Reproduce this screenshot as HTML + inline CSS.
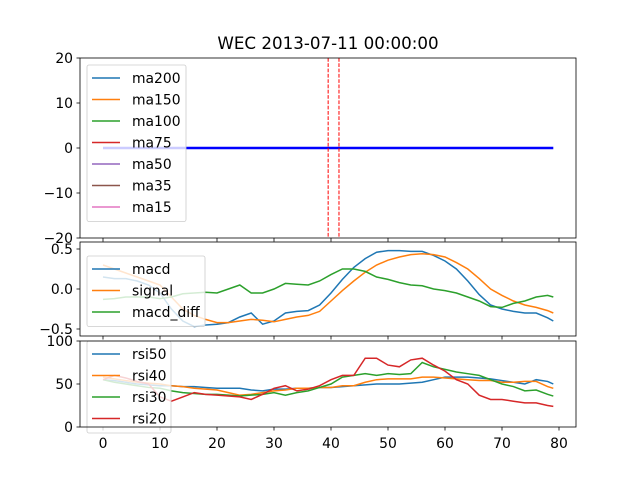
<!DOCTYPE html>
<html><head><meta charset="utf-8"><style>
body{margin:0;background:#fff}
svg{font-family:"DejaVu Sans","Liberation Sans",sans-serif}
</style></head><body>
<svg id="chart" width="640" height="480" xmlns="http://www.w3.org/2000/svg">
<rect width="640" height="480" fill="#fff"/>
<text x="328" y="49" text-anchor="middle" font-size="16.7">WEC 2013-07-11 00:00:00</text>
<g id="g"></g>
</svg>
<script>
const xsIdx=[0,2,4,6,8,10,12,14,16,18,20,22,24,26,28,30,32,34,36,38,40,42,44,46,48,50,52,54,56,58,60,62,64,66,68,70,72,74,76,78,79];
const macd=[0.15,0.13,0.13,0.1,0.05,-0.05,-0.25,-0.4,-0.47,-0.45,-0.44,-0.42,-0.35,-0.3,-0.44,-0.4,-0.3,-0.28,-0.27,-0.2,-0.05,0.12,0.27,0.38,0.46,0.48,0.48,0.47,0.47,0.42,0.35,0.25,0.1,-0.07,-0.2,-0.25,-0.28,-0.3,-0.3,-0.36,-0.4];
const signal=[0.3,0.25,0.2,0.15,0.1,0.05,-0.1,-0.25,-0.33,-0.38,-0.42,-0.42,-0.4,-0.38,-0.39,-0.41,-0.38,-0.35,-0.33,-0.28,-0.15,-0.02,0.1,0.21,0.3,0.36,0.4,0.43,0.44,0.43,0.4,0.33,0.25,0.13,0.0,-0.08,-0.15,-0.2,-0.23,-0.27,-0.3];
const macdDiff=[-0.13,-0.12,-0.1,-0.1,-0.1,-0.12,-0.1,-0.06,-0.05,-0.04,-0.05,0.0,0.05,-0.05,-0.05,0.0,0.07,0.06,0.05,0.1,0.18,0.25,0.25,0.22,0.15,0.12,0.08,0.05,0.04,0.0,-0.02,-0.05,-0.1,-0.15,-0.22,-0.23,-0.18,-0.15,-0.1,-0.08,-0.1];
const rsi50=[55,54,52,50,49,48,48,47,47,46,45,45,45,43,42,44,44,45,45,46,46,47,48,49,50,50,50,51,52,55,58,58,58,57,56,54,52,50,55,53,50];
const rsi40=[58,56,54,52,51,50,48,47,45,44,43,40,37,38,40,42,43,45,45,46,46,48,48,52,55,56,56,56,58,58,57,56,55,54,54,52,52,53,53,47,45];
const rsi30=[55,52,50,48,46,45,42,40,39,38,38,37,36,37,38,40,37,40,42,46,50,58,60,62,60,62,61,62,75,70,67,64,62,60,55,50,47,42,43,38,36];
const rsi20=[55,60,57,53,50,35,30,35,40,38,37,36,35,32,38,45,48,42,44,48,55,60,60,80,80,72,70,78,80,72,65,55,50,37,32,32,30,28,28,25,24];
const maVals=[0,0];const maIdx=[0,79];
const vlines=[39.5,41.4];
const NS="http://www.w3.org/2000/svg";
const g=document.getElementById('g');
const X=i=>103+i*5.7;
function el(t,a,p){const e=document.createElementNS(NS,t);for(const k in a)e.setAttribute(k,a[k]);(p||g).appendChild(e);return e;}
function panel(name,top,bot,ymin,ymax,ticks,fmt){
 const Y=v=>bot-(v-ymin)/(ymax-ymin)*(bot-top);
 for(const t of ticks){const y=Y(t);
  const l=el('line',{x1:80,x2:76.5,y1:y,y2:y,stroke:'#000','stroke-width':0.8});
  
  const tx=el('text',{x:73,y:y+5,'text-anchor':'end','font-size':13.9});tx.textContent=fmt(t);
  }
 for(let v=0;v<=80;v+=10){const l=el('line',{x1:X(v),x2:X(v),y1:bot,y2:bot+3.5,stroke:'#000','stroke-width':0.8});
  }
 return Y;}
function line(name,xs,vs,Y,color,w,extra){
 const p=el('polyline',Object.assign({points:xs.map((x,k)=>X(x)+','+Y(vs[k])).join(' '),fill:'none',stroke:color,'stroke-width':w},extra||{}));
 }
function frame(name,top,bot){const r=el('rect',{x:80,y:top,width:496,height:bot-top,fill:'none',stroke:'#000','stroke-width':0.8});
 }
function legend(name,x,y,w,items){
 const b=el('rect',{x:x,y:y,width:w,height:items.length*21.5+6,rx:2,fill:'#fff','fill-opacity':0.8,stroke:'#ccc','stroke-width':0.8});
 
 items.forEach((it,k)=>{const yy=y+13+k*21.5;
  const l=el('line',{x1:x+5,x2:x+33,y1:yy,y2:yy,stroke:it[1],'stroke-width':1.5});
  
  const t=el('text',{x:x+45,y:yy+5,'font-size':13.9});t.textContent=it[0];
  });}
// top
let Y1=panel('ma-panel',58,238,-20,20,[-20,-10,0,10,20],v=>v.toString().replace('-','\u2212'));
line('ma-line',maIdx,maVals,Y1,'#0000ff',2.5);
vlines.forEach(v=>{const l=el('line',{x1:X(v),x2:X(v),y1:58,y2:238,stroke:'#ff0000','stroke-width':1,'stroke-dasharray':'3.7,1.6'});
 });
legend('ma-legend',87,65,99,[['ma200','#1f77b4'],['ma150','#ff7f0e'],['ma100','#2ca02c'],['ma75','#d62728'],['ma50','#9467bd'],['ma35','#8c564b'],['ma15','#e377c2']]);
frame('ma-panel',58,238);
// middle
let Y2=panel('macd-panel',242,336,-0.5875,0.5875,[-0.5,0,0.5],v=>v.toFixed(1).replace('-','\u2212'));
line('macd-line',xsIdx,macd,Y2,'#1f77b4',1.5);
line('signal-line',xsIdx,signal,Y2,'#ff7f0e',1.5);
line('macd-diff-line',xsIdx,macdDiff,Y2,'#2ca02c',1.5);
legend('macd-legend',87,256,118,[['macd','#1f77b4'],['signal','#ff7f0e'],['macd_diff','#2ca02c']]);
frame('macd-panel',242,336);
// bottom
let Y3=panel('rsi-panel',341,427,0,100,[0,50,100],v=>v.toString());
line('rsi50-line',xsIdx,rsi50,Y3,'#1f77b4',1.5);
line('rsi40-line',xsIdx,rsi40,Y3,'#ff7f0e',1.5);
line('rsi30-line',xsIdx,rsi30,Y3,'#2ca02c',1.5);
line('rsi20-line',xsIdx,rsi20,Y3,'#d62728',1.5);
legend('rsi-legend',87,341,84,[['rsi50','#1f77b4'],['rsi40','#ff7f0e'],['rsi30','#2ca02c'],['rsi20','#d62728']]);
frame('rsi-panel',341,427);
for(let v=0;v<=80;v+=10){const t=el('text',{x:X(v),y:448,'text-anchor':'middle','font-size':13.9});t.textContent=v;
 }
</script>
</body></html>
